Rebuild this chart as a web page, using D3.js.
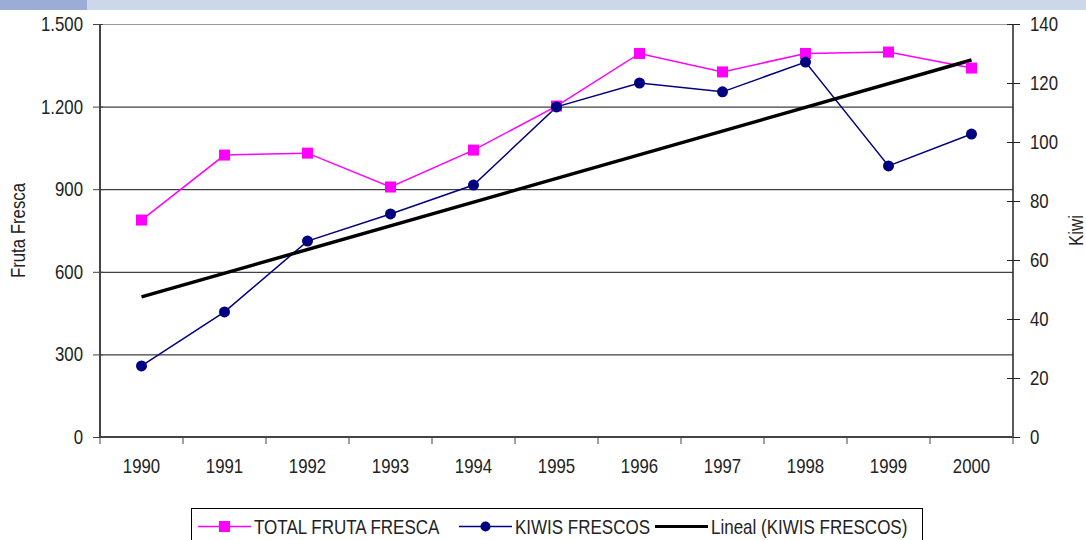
<!DOCTYPE html>
<html>
<head>
<meta charset="utf-8">
<script src="https://cdn.jsdelivr.net/npm/d3@7"></script>
<style>
  html, body { margin: 0; padding: 0; background: #fff; }
  svg { display: block; }
  text { font-family: "Liberation Sans", Arial, sans-serif; fill: #222; }
  .tick text { font-size: 20px; }
  .axis-title { font-size: 20px; }
  .legend-label { font-size: 20px; }
</style>
</head>
<body>
<div id="chart"></div>
<script>
// ── data ─────────────────────────────────────────────
const years = ["1990", "1991", "1992", "1993", "1994", "1995", "1996", "1997", "1998", "1999", "2000"];
const frutaFresca = [788, 1024, 1031, 908, 1042, 1202, 1393, 1326, 1393, 1398, 1340];
const kiwisFrescos = [24.1, 42.4, 66.4, 75.6, 85.4, 111.9, 120, 117, 127.1, 91.9, 102.7];
// linear trendline (Lineal) read at first and last year
const trendYears = ["1990", "2000"];
const trendValues = [47.5, 127.8];
const leftTicks = [0, 300, 600, 900, 1200, 1500];
const rightTicks = [0, 20, 40, 60, 80, 100, 120, 140];

const W = 1086, H = 540;
const M = { top: 24, right: 73, bottom: 103, left: 100 };
const PW = W - M.left - M.right;
const PH = H - M.top - M.bottom;

const PINK = "#ff00ff";
const NAVY = "#000080";
const NARROW = 0.84;   // fake "Arial Narrow" by squeezing horizontally

const svg = d3.select("#chart").append("svg")
  .attr("width", W).attr("height", H);

// squeeze a text element around its own x position
function narrow(sel, k = NARROW) {
  sel.each(function () {
    const t = d3.select(this);
    const x0 = +t.attr("x") || 0;
    t.attr("x", x0 / k).attr("transform", `scale(${k},1)`);
  });
}

// header strip
svg.append("rect").attr("x", 0).attr("y", 0).attr("width", W).attr("height", 10).attr("fill", "#cdd7ea");
svg.append("rect").attr("x", 0).attr("y", 0).attr("width", 87).attr("height", 10).attr("fill", "#9badd6");

const g = svg.append("g").attr("transform", `translate(${M.left},${M.top})`);

const x = d3.scaleBand().domain(years).range([0, PW]).padding(0);
const yL = d3.scaleLinear().domain([0, 1500]).range([PH, 0]);
const yR = d3.scaleLinear().domain([0, 140]).range([PH, 0]);
const cx = d => x(d) + x.bandwidth() / 2;

// gridlines
g.append("g")
  .call(d3.axisLeft(yL).tickValues(leftTicks.slice(1)).tickSize(-PW).tickFormat(""))
  .call(s => s.select(".domain").remove())
  .call(s => s.selectAll("line").attr("stroke", d => d === 1500 ? "#999" : "#111").attr("stroke-width", 1));

// axes
const axL = g.append("g")
  .call(d3.axisLeft(yL).tickValues(leftTicks).tickSize(7).tickPadding(10)
    .tickFormat(d => d3.format(",")(d).replace(",", ".")));
axL.select(".domain").attr("stroke", "#444").attr("stroke-width", 2).attr("d", `M0,${PH}V0`);
axL.selectAll(".tick line").attr("stroke", "#444").attr("x1", 3);
axL.selectAll(".tick text").attr("fill", "#222").call(narrow);

const axR = g.append("g").attr("transform", `translate(${PW},0)`)
  .call(d3.axisRight(yR).tickValues(rightTicks).tickSize(7).tickPadding(10));
axR.select(".domain").attr("stroke", "#222").attr("stroke-width", 1.5).attr("d", `M0,${PH}V0`);
axR.selectAll(".tick line").attr("stroke", "#222").attr("x1", -6);
axR.selectAll(".tick text").attr("fill", "#222").call(narrow);

const axX = g.append("g").attr("transform", `translate(0,${PH})`)
  .call(d3.axisBottom(x).tickSize(0).tickPadding(23));
axX.select(".domain").attr("stroke", "#444").attr("stroke-width", 2).attr("d", `M0,0H${PW}`);
axX.selectAll(".tick text").attr("fill", "#222").attr("dy", "0.65em").call(narrow);
// ticks at category boundaries
g.append("g").selectAll("line")
  .data(years.concat(["end"]))
  .join("line")
  .attr("x1", (d, i) => i * x.step()).attr("x2", (d, i) => i * x.step())
  .attr("y1", PH).attr("y2", PH + 7)
  .attr("stroke", "#444").attr("stroke-width", 1);

// axis titles
svg.append("text").attr("class", "axis-title")
  .attr("transform", `translate(25,${M.top + PH / 2}) rotate(-90) scale(${NARROW},1)`)
  .attr("text-anchor", "middle").text("Fruta Fresca");
svg.append("text").attr("class", "axis-title")
  .attr("transform", `translate(1083,${M.top + PH / 2}) rotate(-90) scale(${NARROW},1)`)
  .attr("text-anchor", "middle").text("Kiwi");

// series lines
const lineL = d3.line().x((d, i) => cx(years[i])).y(d => yL(d));
const lineR = d3.line().x((d, i) => cx(years[i])).y(d => yR(d));

g.append("path").datum(frutaFresca).attr("d", lineL)
  .attr("fill", "none").attr("stroke", PINK).attr("stroke-width", 1.5);
g.append("path").datum(kiwisFrescos).attr("d", lineR)
  .attr("fill", "none").attr("stroke", NAVY).attr("stroke-width", 1.5);
g.append("path").datum(trendValues)
  .attr("d", d3.line().x((d, i) => cx(trendYears[i])).y(d => yR(d)))
  .attr("fill", "none").attr("stroke", "#000").attr("stroke-width", 3.5);

// markers
g.selectAll(".sq").data(frutaFresca).join("rect").attr("class", "sq")
  .attr("x", (d, i) => cx(years[i]) - 5.5).attr("y", d => yL(d) - 5.5)
  .attr("width", 11).attr("height", 11).attr("fill", PINK);
g.selectAll(".dot").data(kiwisFrescos).join("circle").attr("class", "dot")
  .attr("cx", (d, i) => cx(years[i])).attr("cy", d => yR(d))
  .attr("r", 5.5).attr("fill", NAVY);

// legend
const lg = svg.append("g").attr("transform", "translate(191.5,508.5)");
lg.append("rect").attr("x", 0).attr("y", 0).attr("width", 731).attr("height", 40)
  .attr("fill", "#fff").attr("stroke", "#000").attr("stroke-width", 1);
const items = [
  { label: "TOTAL FRUTA FRESCA", color: PINK, mark: "sq", w: 1.5, x: 6.5 },
  { label: "KIWIS FRESCOS", color: NAVY, mark: "dot", w: 1.5, x: 267.5 },
  { label: "Lineal (KIWIS FRESCOS)", color: "#000", mark: null, w: 3, x: 463.5 }
];
items.forEach(it => {
  const r = lg.append("g").attr("transform", `translate(${it.x},18)`);
  r.append("line").attr("x1", 0).attr("x2", 53).attr("stroke", it.color).attr("stroke-width", it.w);
  if (it.mark === "sq") r.append("rect").attr("x", 21).attr("y", -5.5).attr("width", 11).attr("height", 11).attr("fill", it.color);
  if (it.mark === "dot") r.append("circle").attr("cx", 26.5).attr("r", 5).attr("fill", it.color);
  r.append("text").attr("class", "legend-label").attr("x", 56).attr("y", 7).text(it.label)
    .call(narrow, 0.85);
});
</script>
</body>
</html>
